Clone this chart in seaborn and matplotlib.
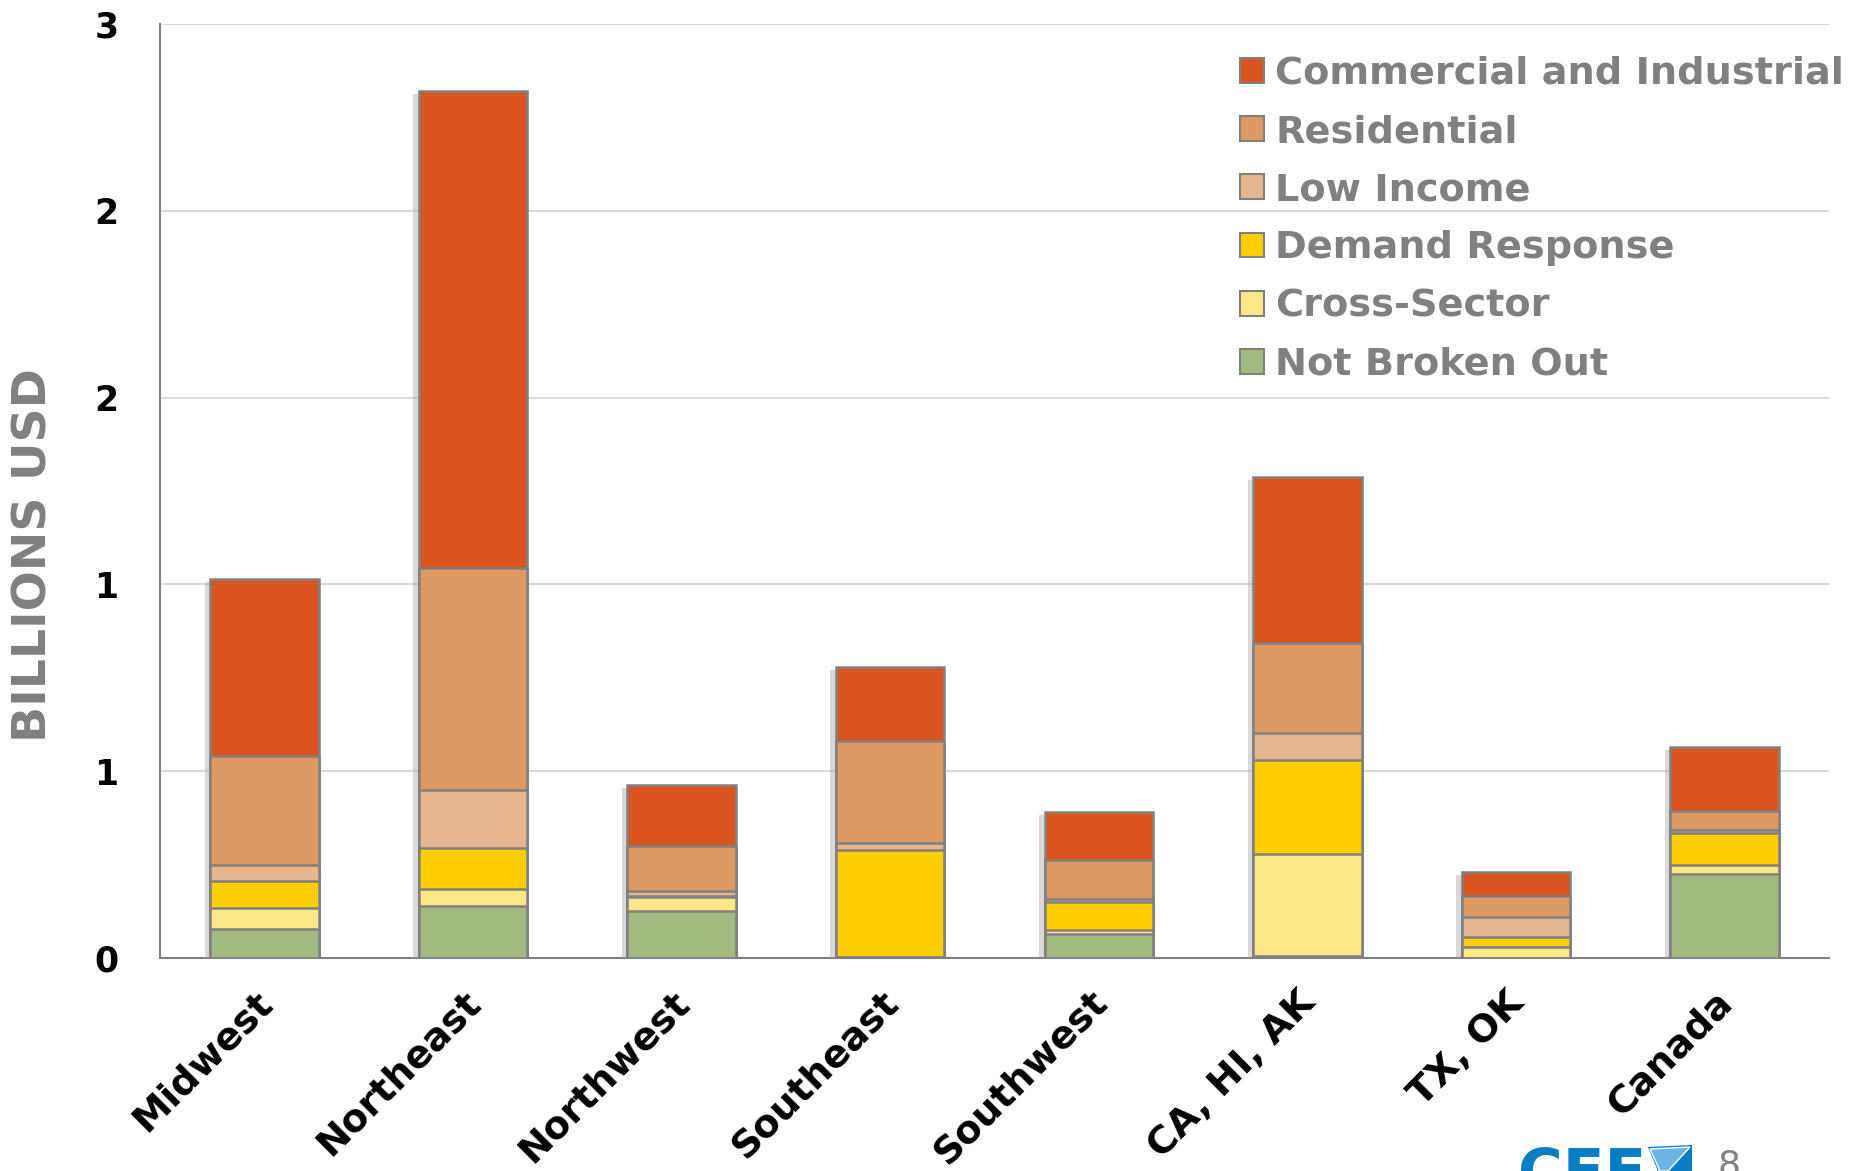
import matplotlib
matplotlib.use("Agg")
import matplotlib.pyplot as plt
import matplotlib.patheffects as pe
import matplotlib.transforms as mtransforms
from matplotlib.patches import Polygon
from matplotlib.ticker import FixedLocator
import seaborn as sns
import pandas as pd
import numpy as np

# Energy-efficiency program budgets by region, billions USD
regions = ["Midwest", "Northeast", "Northwest", "Southeast",
           "Southwest", "CA, HI, AK", "TX, OK", "Canada"]
not_broken_out = [0.077, 0.140, 0.125, 0.003, 0.065, 0.005, 0.000, 0.226]
cross_sector = [0.056, 0.046, 0.037, 0.000, 0.009, 0.274, 0.029, 0.022]
demand_response = [0.072, 0.108, 0.005, 0.287, 0.075, 0.252, 0.026, 0.087]
low_income = [0.043, 0.157, 0.011, 0.017, 0.008, 0.071, 0.055, 0.007]
residential = [0.294, 0.592, 0.122, 0.275, 0.106, 0.240, 0.056, 0.052]
commercial_industrial = [0.473, 1.277, 0.163, 0.197, 0.127, 0.446, 0.064, 0.170]

series_names = ["Not Broken Out", "Cross-Sector", "Demand Response",
                "Low Income", "Residential", "Commercial and Industrial"]
series_values = [not_broken_out, cross_sector, demand_response,
                 low_income, residential, commercial_industrial]
series_colors = ["#A3B982", "#FDE787", "#FDCE00",
                 "#E8B68E", "#DE9A62", "#D9541E"]

y_ticks = [0, 0.5, 1.0, 1.5, 2.0, 2.5]
y_tick_labels = ["0", "1", "1", "2", "2", "3"]

# cumulative stack tops, bottom layer first
df = pd.DataFrame({name: vals for name, vals in zip(series_names, series_values)},
                  index=regions)
cum = df.cumsum(axis=1)

sns.set_style("white")
plt.rcParams["font.family"] = ["DejaVu Sans"]

fig = plt.figure(figsize=(18.62, 11.71), dpi=100)
ax = fig.add_axes([160 / 1862, 1 - 958 / 1171, 1669 / 1862, 934 / 1171])

edge = "#808080"
# draw the tallest stack first, then each lower cumulative layer over it
for i, (name, color) in enumerate(reversed(list(zip(series_names, series_colors)))):
    n_before = len(ax.patches)
    sns.barplot(x=regions, y=cum[name].values, color=color, saturation=1,
                width=0.52, edgecolor=edge, linewidth=1.8, ax=ax, zorder=3)
    if i == 0:
        for p in ax.patches[n_before:]:
            p.set_path_effects([
                pe.SimplePatchShadow(offset=(-4, -2), shadow_rgbFace="#a0a0a0", alpha=0.4),
                pe.Normal()])

ax.set_xlim(-0.5, len(regions) - 0.5)
ax.set_ylim(0, 2.5)
ax.set_yticks(y_ticks)
ax.set_yticklabels(y_tick_labels, fontsize=25, fontweight="bold", color="black")
ax.yaxis.grid(True, color="#d9d9d9", linewidth=1.5, zorder=0)
ax.xaxis.grid(False)
ax.set_axisbelow(True)

for side in ["top", "right"]:
    ax.spines[side].set_visible(False)
for side in ["left", "bottom"]:
    ax.spines[side].set_color(edge)
    ax.spines[side].set_linewidth(1.5)

ax.tick_params(axis="y", length=0, pad=30)
ax.tick_params(axis="x", which="major", length=0, pad=19)
ax.xaxis.set_minor_locator(FixedLocator(np.arange(-0.5, len(regions), 1.0)))
ax.tick_params(axis="x", which="minor", length=10, width=1.5, color=edge, direction="out")

ax.set_xticks(range(len(regions)))
ax.set_xticklabels(regions, fontsize=27.5, fontweight="bold", color="black",
                   rotation=45, ha="right", va="top", rotation_mode="anchor")
offset = mtransforms.ScaledTranslation(-10 / 100, 0, fig.dpi_scale_trans)
for lbl in ax.get_xticklabels():
    lbl.set_transform(lbl.get_transform() + offset)
ax.set_xlabel("")
ax.set_ylabel("")

fig.text(34 / 1862, 1 - 555 / 1171, "BILLIONS USD", rotation=90, ha="center",
         va="center", fontsize=34, fontweight="bold", color="#808080")

# legend, top category first
handles = [plt.Rectangle((0, 0), 1, 1, facecolor=c, edgecolor=edge, linewidth=1.5)
           for c in reversed(series_colors)]
leg = ax.legend(handles, list(reversed(series_names)), loc="upper left",
                bbox_to_anchor=(1240 / 1862, 1 - 56 / 1171),
                bbox_transform=fig.transFigure, frameon=False,
                prop={"size": 27.5, "weight": "bold"},
                handlelength=0.62, handleheight=0.62, handletextpad=0.3,
                labelspacing=0.58, borderpad=0, borderaxespad=0)
for t in leg.get_texts():
    t.set_color("#808080")

# footer logo and page number
fig.text(1518 / 1862, 1 - 1146 / 1171, "CEE", color="#0b7dc2", fontsize=44,
         fontweight="bold", va="top", ha="left")
fig.patches.append(Polygon([(1648 / 1862, 1 - 1147 / 1171), (1692 / 1862, 1 - 1145 / 1171),
                            (1692 / 1862, 0), (1658 / 1862, 0)],
                           closed=True, facecolor="#0b7dc2", edgecolor="none",
                           transform=fig.transFigure))
fig.patches.append(Polygon([(1650 / 1862, 1 - 1149 / 1171), (1690 / 1862, 1 - 1147 / 1171),
                            (1668 / 1862, 0), (1660 / 1862, 0)],
                           closed=True, facecolor="#6cb4e6", edgecolor="white", linewidth=1,
                           transform=fig.transFigure))
fig.text(1717 / 1862, 1 - 1148 / 1171, "8", color="#808080", fontsize=26,
         va="top", ha="left")

fig.savefig("out.png", dpi=100)
